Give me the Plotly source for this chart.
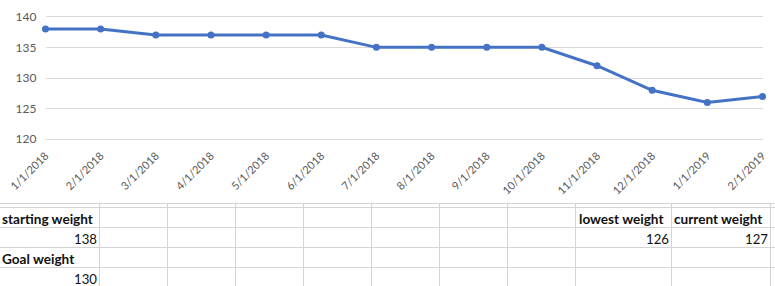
import plotly.graph_objects as go

# ---- data ----
dates = ["1/1/2018", "2/1/2018", "3/1/2018", "4/1/2018", "5/1/2018", "6/1/2018",
         "7/1/2018", "8/1/2018", "9/1/2018", "10/1/2018", "11/1/2018", "12/1/2018",
         "1/1/2019", "2/1/2019"]
weights = [138, 138, 137, 137, 137, 137, 135, 135, 135, 135, 132, 128, 126, 127]
goal_weight = 130
y_ticks = [120, 125, 130, 135, 140]

starting_weight = weights[0]
lowest_weight = min(weights)
current_weight = weights[-1]

W, H = 775, 286
def px(x):
    return x / W
def py(y):
    return 1 - y / H

FONT = "Lato"
TICK_COLOR = "#595959"
LINE_BLUE = "#4472C4"
GRID = "#D4D4D4"

fig = go.Figure()
fig.add_trace(go.Scatter(
    x=dates, y=weights, mode="lines+markers",
    line=dict(color=LINE_BLUE, width=3),
    marker=dict(color=LINE_BLUE, size=7),
    cliponaxis=False, hoverinfo="x+y", showlegend=False,
))

# plot area geometry (pixels)
x_first, x_last = 45.5, 762.5
y_top_val_px, y_bot_val_px = 16.7, 139.3   # pixel of 140 and 120
ppu = (y_bot_val_px - y_top_val_px) / 20.0
pad = 0.5
dom_top = y_top_val_px - pad * ppu
dom_bot = y_bot_val_px + pad * ppu

fig.update_layout(
    width=W, height=H,
    margin=dict(l=0, r=0, t=0, b=0, pad=0, autoexpand=False),
    paper_bgcolor="white", plot_bgcolor="white",
    font=dict(family=FONT, color=TICK_COLOR, size=12),
    xaxis=dict(
        type="category", domain=[px(x_first), px(x_last)], range=[0, len(dates) - 1],
        showgrid=False, zeroline=False, showline=False, ticks="",
        tickangle=-45, tickfont=dict(size=11, color=TICK_COLOR),
        ticklabelstandoff=4, automargin=False,
    ),
    yaxis=dict(
        domain=[py(dom_bot), py(dom_top)], range=[120 - pad, 140 + pad],
        tickvals=y_ticks, showgrid=True, gridcolor="#D9D9D9", gridwidth=1,
        zeroline=False, showline=False, ticks="",
        tickfont=dict(size=12, color=TICK_COLOR), ticklabelstandoff=8,
        automargin=False,
    ),
)

# ---- spreadsheet grid below the chart ----
row_lines = [203.5, 207.5, 227.5, 247.5, 267.5]
col_lines = [99.5, 167.5, 235.5, 303.5, 371.5, 439.5, 507.5, 575.5, 671.5, 770.5]
shapes = []
for y in row_lines:
    shapes.append(dict(type="line", xref="paper", yref="paper",
                       x0=0, x1=1, y0=py(y), y1=py(y),
                       line=dict(color=GRID, width=1)))
for x in col_lines:
    shapes.append(dict(type="line", xref="paper", yref="paper",
                       x0=px(x), x1=px(x), y0=py(203.5), y1=0,
                       line=dict(color=GRID, width=1)))
fig.update_layout(shapes=shapes)

BOLD_FONT = dict(family=FONT, size=13.6, color="#111111")
NUM_FONT = dict(family=FONT, size=13.2, color="#111111")
def cell_text(text, x, y, anchor, bold=False):
    fig.add_annotation(
        text=f"<b>{text}</b>" if bold else str(text),
        xref="paper", yref="paper", x=px(x), y=py(y),
        xanchor=anchor, yanchor="middle", showarrow=False,
        font=BOLD_FONT if bold else NUM_FONT, borderpad=0, borderwidth=0,
    )

cell_text("starting weight", 1.5, 218.5, "left", bold=True)
cell_text(starting_weight, 97.5, 238.5, "right")
cell_text("Goal weight", 1.5, 258.5, "left", bold=True)
cell_text(goal_weight, 97.5, 278.5, "right")
cell_text("lowest weight", 578.5, 218.5, "left", bold=True)
cell_text(lowest_weight, 669.0, 238.5, "right")
cell_text("current weight", 673.5, 218.5, "left", bold=True)
cell_text(current_weight, 768.0, 238.5, "right")

fig.write_html("out.html")
